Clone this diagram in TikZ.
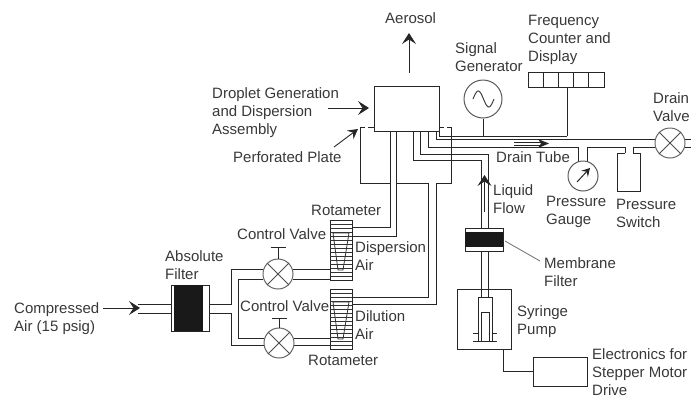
\documentclass[tikz,border=0pt]{standalone}
\usepackage{fontspec}
\usepackage{tikz}
\usetikzlibrary{arrows.meta}
\setmainfont{Liberation Sans}

\tikzset{
    label/.style={anchor=west, align=left, inner sep=0pt, text=black!78, font=\fontsize{15}{18}\selectfont},
    pipe/.style={black!85, line width=0.95pt},
    flow/.style={black!85, line width=1pt, -{Stealth[length=11pt, width=14pt, inset=4.5pt]}},
    valve/.style={circle, draw=black!60, line width=1pt, minimum size=30pt, inner sep=0pt},
    dial/.style={circle, draw=black!65, line width=1pt, inner sep=0pt},
    unit/.style={rectangle, draw=black!85, line width=0.95pt, inner sep=0pt}
}

\begin{document}
\begin{tikzpicture}[x=1pt, y=-1pt]
        \useasboundingbox (0,0) rectangle (691,397);

        % Droplet generator and the vessel under it
        \node[unit, minimum width=65pt, minimum height=45pt] (assembly) at (406.5,108.5) {};
        \draw[pipe] (374,127) -- (368,127) (365,127) -- (360,127) -- (360,183) -- (390,183);
        \draw[pipe] (396,183) -- (428,183);
        \draw[pipe] (436,183) -- (451,183) -- (451,127) -- (447,127) (444,127) -- (439,127);

        % Air lines up to the assembly
        \draw[pipe] (390,131) -- (390,227) -- (352,227);
        \draw[pipe] (396,131) -- (396,236) -- (352,236);
        \draw[pipe] (428,183) -- (428,297) -- (352,297);
        \draw[pipe] (436,183) -- (436,304) -- (352,304);

        % Drain tube
        \draw[pipe] (436,131) -- (436,139) -- (655,139);
        \draw[pipe] (428,131) -- (428,147) -- (578,147) -- (578,162);
        \draw[pipe] (587,162) -- (587,147) -- (625,147) -- (625,153);
        \draw[pipe] (633,153) -- (633,147) -- (655,147);
        \draw[pipe] (685,139) -- (691,139) (685,147) -- (691,147);
        \draw[black!85, line width=0.8pt] (514,142) -- (542,142) (514,145) -- (542,145);
        \fill[black!85] (549,143.5) -- (538,139) -- (541,143.5) -- (538,148) -- cycle;

        % Liquid line
        \draw[pipe] (420,131) -- (420,154) -- (488,154) -- (488,228);
        \draw[pipe] (413,131) -- (413,160) -- (481,160) -- (481,228);
        \draw[pipe] (481,251) -- (481,297) (488,251) -- (488,297);
        \draw[flow] (484.5,212) -- (484.5,175);

        % Signal line
        \node[dial, minimum size=38pt] (generator) at (483,99) {};
        \draw[black!75, line width=1pt] plot[smooth, domain=0:360, samples=25] ({473+\x/360*21},{99-8*sin(\x)});
        \draw[pipe] (439,131) -- (439,136) -- (567,136);
        \draw[pipe] (generator.south) -- (483,136);

        % Display cells
        \draw[pipe] (528,72) rectangle (604,87);
        \foreach \i in {1,...,4} {
            \draw[pipe] (528+15.2*\i,72) -- (528+15.2*\i,87);
        }
        \draw[pipe] (567,87) -- (567,136);

        % Drain valve, gauge and switch
        \node[valve] (drainvalve) at (670,143) {};
        \draw[black!70, line width=1pt] (drainvalve.45) -- (drainvalve.225) (drainvalve.135) -- (drainvalve.315);
        \node[dial, minimum size=30pt] (gauge) at (583,176) {};
        \draw[black!85, line width=1pt, -{Stealth[length=8pt, width=9pt, inset=3pt]}] (577,182) -- (590,168);
        \draw[pipe] (625,153) -- (617,153) -- (617,191) -- (640,191) -- (640,153) -- (633,153);

        % Membrane filter
        \draw[pipe] (465,228) rectangle (503,251);
        \fill[black!90] (465,232) rectangle (503,247);
        \draw[black!60, line width=0.8pt] (505,241) -- (540,261);

        % Syringe pump
        \draw[pipe] (457,289) rectangle (511,349);
        \draw[pipe] (478,333) -- (478,297) -- (492,297) -- (492,333);
        \draw[pipe] (473,333) -- (478,333) -- (478,341) (492,341) -- (492,333) -- (497,333);
        \draw[pipe] (481,341) -- (481,312) -- (489,312) -- (489,341);
        \draw[pipe] (473,341) -- (497,341);

        % Stepper drive
        \node[unit, minimum width=54pt, minimum height=29pt] (drive) at (560,371.5) {};
        \draw[pipe] (503,349) |- (drive.west);

        % Absolute filter
        \draw[pipe] (171,285) rectangle (209,331);
        \fill[black!90] (174,285) rectangle (203,331);
        \draw[pipe] (138,304) -- (171,304) (138,313) -- (171,313);
        \draw[pipe] (209,304) -- (231,304) -- (231,269) -- (263,269);
        \draw[pipe] (209,313) -- (231,313) -- (231,345) -- (264,345);
        \draw[pipe] (263,279) -- (238,279) -- (238,338) -- (264,338);
        \draw[pipe] (293,269) -- (330,269) (293,279) -- (330,279);
        \draw[pipe] (294,338) -- (330,338) (294,345) -- (330,345);

        % Control valves
        \node[valve] (uppervalve) at (278,274) {};
        \node[valve] (lowervalve) at (279,343) {};
        \foreach \v/\ytop in {uppervalve/247, lowervalve/318} {
            \draw[black!70, line width=1pt] (\v.45) -- (\v.225) (\v.135) -- (\v.315);
            \draw[pipe] (\v.north) -- (\v.north |- 0,\ytop);
            \draw[pipe] ([xshift=-7.5pt]\v.north |- 0,\ytop) -- ([xshift=7.5pt]\v.north |- 0,\ytop);
        }

        % Rotameters
        \foreach \ytop in {220,289} {
            \draw[pipe] (330,\ytop) rectangle (352,\ytop+60);
            \foreach \k in {1,...,14} {
                \draw[black!80, line width=0.7pt] (330,\ytop+4*\k) -- (352,\ytop+4*\k);
            }
            \draw[black!80, line width=0.8pt] (333,\ytop+13) -- (338,\ytop+50) -- (343,\ytop+50) -- (349,\ytop+13) -- cycle;
        }

        % Arrows
        \draw[flow] (409,73) -- (409,33);
        \draw[flow] (328,108) -- (369,108);
        \draw[flow, line width=0.9pt, -{Stealth[length=10pt, width=11pt, inset=4pt]}] (334,147) -- (358,129);
        \draw[flow] (103,308) -- (140,308);

        % Labels
        \node[label] (aerosol) at (385,18) {Aerosol};
        \node[label] (droplet) at (212,112.5) {Droplet Generation\\and Dispersion\\Assembly};
        \node[label] (plate) at (233,157) {Perforated Plate};
        \node[label] (signal) at (455,57) {Signal\\Generator};
        \node[label] (frequency) at (528,39.5) {Frequency\\Counter and\\Display};
        \node[label] (drainlabel) at (653,107) {Drain\\Valve};
        \node[label] (tube) at (496,157) {Drain Tube};
        \node[label] (liquid) at (493,199) {Liquid\\Flow};
        \node[label] (gaugelabel) at (546,212) {Pressure\\Gauge};
        \node[label] (switch) at (616,213) {Pressure\\Switch};
        \node[label] (membrane) at (544,272) {Membrane\\Filter};
        \node[label] (syringe) at (517,322) {Syringe\\Pump};
        \node[label] (electronics) at (592,372) {Electronics for\\Stepper Motor\\Drive};
        \node[label] (rotaupper) at (311,210) {Rotameter};
        \node[label] (rotalower) at (308,360) {Rotameter};
        \node[label] (dispersion) at (355,256.5) {Dispersion\\Air};
        \node[label] (dilution) at (355,325) {Dilution\\Air};
        \node[label] (ctrlupper) at (237,234) {Control Valve};
        \node[label] (ctrllower) at (240,306) {Control Valve};
        \node[label] (absolute) at (165,265.5) {Absolute\\Filter};
        \node[label] (compressed) at (14,319) {Compressed\\Air (15 psig)};
    \end{tikzpicture}
\end{document}
